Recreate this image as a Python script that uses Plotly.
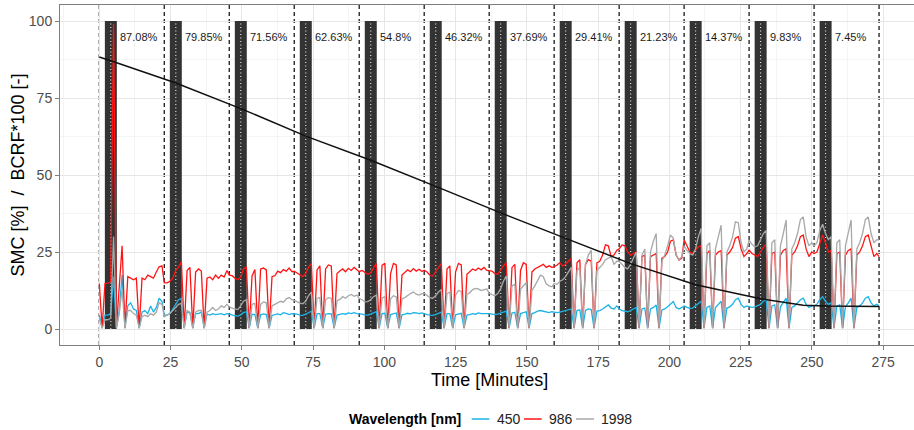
import plotly.graph_objects as go

# ---------------------------------------------------------------- data ----
# start of each measurement interval (minutes) and end of the run
interval_start = [0.0, 22.8, 45.6, 68.4, 91.2, 114.0, 136.8, 159.6, 182.4, 205.2, 228.0, 250.8]
end_time = 273.6
# readings inside each interval, one per minute after the interval start
sample_offset = list(range(23))

# soil moisture content at each interval
smc_label = [87.08, 79.85, 71.56, 62.63, 54.8, 46.32, 37.69, 29.41, 21.23, 14.37, 9.83, 7.45]
smc_start = 88.3
smc_bend_time = 247.0
smc_bend_value = 7.7
smc_end = 7.3

wavelengths = ["450", "986", "1998"]

# BCRF*100 per wavelength (12 intervals x 23 readings + final reading)
blue_450 = [
    4.5, 0.3, 4.5, 4.5, 5.0, 17.0, 0.3, 6.0, 17.5, 0.3, 7.5, 8.5, 6.5, 6.0, 0.3, 5.5, 6.0, 5.0, 7.5, 5.5, 7.0, 10.0, 9.0,
    4.5, 4.5, 5.0, 6.5, 8.0, 9.5, 9.9, 0.3, 5.5, 5.3, 0.3, 5.0, 5.0, 5.5, 0.3, 4.8, 4.5, 5.0, 4.7, 4.8, 5.0, 4.6, 5.0,
    4.8, 4.5, 4.3, 4.2, 4.6, 5.3, 5.6, 0.3, 4.8, 4.7, 0.3, 4.6, 4.9, 4.7, 0.3, 4.4, 4.6, 4.9, 4.6, 5.3, 5.1, 4.7, 5.0,
    5.0, 4.8, 4.5, 4.4, 4.8, 5.4, 5.8, 0.3, 5.0, 5.0, 0.3, 4.8, 5.0, 4.9, 0.3, 4.5, 4.8, 5.0, 4.8, 5.2, 5.0, 5.3, 5.0,
    5.0, 4.8, 4.6, 4.5, 4.8, 5.2, 5.6, 0.3, 5.0, 5.1, 0.3, 4.7, 5.0, 5.2, 0.3, 4.6, 4.8, 5.1, 4.9, 5.3, 5.2, 5.0, 5.2,
    4.9, 4.7, 4.5, 4.4, 4.7, 5.1, 5.5, 0.3, 5.0, 5.0, 0.3, 4.6, 4.9, 5.1, 0.3, 4.5, 4.7, 5.0, 4.8, 5.2, 5.0, 5.1, 5.0,
    5.0, 4.8, 4.7, 4.8, 5.2, 5.5, 5.8, 0.3, 5.2, 5.4, 0.3, 5.0, 5.3, 5.6, 0.3, 5.0, 5.3, 5.8, 6.0, 5.8, 5.5, 5.3, 5.6,
    5.5, 5.3, 5.5, 5.8, 6.0, 6.3, 6.5, 0.3, 6.0, 6.2, 0.3, 6.0, 6.5, 6.3, 0.3, 5.8, 6.0, 6.5, 7.2, 7.8, 6.8, 6.5, 7.5,
    6.5, 6.0, 5.8, 5.6, 6.0, 6.5, 7.0, 0.3, 6.5, 6.8, 0.3, 6.5, 7.0, 7.8, 0.3, 6.2, 6.5, 7.2, 8.0, 8.9, 7.0, 6.5, 7.0,
    7.5, 7.0, 6.7, 6.8, 7.5, 8.5, 9.0, 0.3, 7.0, 7.5, 0.3, 7.0, 8.0, 9.0, 0.3, 6.8, 7.2, 8.0, 9.5, 10.0, 8.0, 7.0, 7.5,
    7.2, 7.0, 7.2, 7.5, 8.0, 9.0, 9.5, 0.3, 7.5, 7.8, 0.3, 7.2, 8.5, 10.0, 0.3, 7.0, 7.5, 8.5, 9.5, 10.0, 8.0, 7.0, 7.5,
    7.5, 8.0, 9.5, 10.5, 9.0, 8.0, 8.5, 0.3, 7.5, 7.8, 0.3, 7.2, 8.5, 10.0, 0.3, 7.0, 7.5, 8.5, 10.0, 10.5, 8.5, 7.5, 8.0,
    7.5,
]

red_986 = [
    14.8, 0.5, 14.8, 14.8, 15.5, 99.0, 0.5, 14.0, 27.0, 0.5, 17.0, 16.5, 16.0, 16.5, 0.5, 16.5, 16.0, 17.5, 17.0, 16.5, 18.5, 20.2, 20.5,
    15.0, 15.0, 15.5, 16.5, 19.0, 20.0, 21.8, 0.3, 19.0, 20.0, 0.3, 18.5, 19.5, 18.8, 0.3, 16.5, 16.9, 16.0, 17.5, 16.5, 17.5, 16.9, 19.0,
    17.5, 17.3, 16.5, 16.0, 16.8, 19.5, 20.2, 0.3, 17.2, 19.3, 0.3, 19.5, 19.8, 19.2, 0.3, 17.0, 17.3, 18.8, 18.3, 19.3, 18.8, 19.8, 18.6,
    18.8, 18.2, 17.5, 17.0, 18.0, 20.0, 21.3, 0.3, 19.2, 20.5, 0.3, 19.5, 20.8, 20.5, 0.3, 18.0, 18.8, 19.5, 18.6, 19.7, 19.0, 20.0, 19.2,
    18.6, 19.0, 18.5, 17.8, 18.2, 20.0, 21.3, 0.3, 20.7, 21.3, 0.3, 18.0, 21.3, 20.8, 0.3, 17.5, 18.5, 19.2, 18.6, 19.6, 18.8, 19.4, 18.7,
    19.1, 18.5, 17.5, 17.2, 18.5, 20.0, 21.3, 0.3, 19.5, 20.5, 0.3, 18.5, 21.3, 20.8, 0.3, 17.8, 18.5, 19.5, 19.0, 19.8, 19.2, 20.0, 19.0,
    19.0, 18.8, 18.0, 17.8, 19.0, 20.5, 21.5, 0.3, 20.0, 21.0, 0.3, 19.0, 21.5, 21.0, 0.3, 18.5, 19.5, 20.0, 20.5, 21.0, 20.0, 20.5, 20.0,
    20.2, 20.8, 21.5, 20.5, 21.0, 22.0, 22.9, 0.3, 21.5, 22.5, 0.3, 21.0, 22.5, 22.0, 0.3, 21.5, 22.0, 24.0, 27.3, 27.0, 23.5, 24.0, 25.6,
    26.0, 27.3, 27.0, 25.0, 24.0, 24.5, 25.0, 0.3, 23.5, 24.0, 0.3, 23.5, 24.0, 24.5, 0.3, 23.0, 23.5, 25.0, 28.5, 28.9, 24.0, 22.4, 23.0,
    28.9, 27.0, 25.0, 24.5, 25.5, 26.7, 27.0, 0.3, 24.5, 25.5, 0.3, 24.0, 25.0, 25.5, 0.3, 24.0, 25.0, 26.5, 29.5, 30.0, 26.0, 23.5, 24.5,
    25.6, 24.5, 24.0, 23.5, 25.0, 26.5, 27.5, 0.3, 24.5, 25.0, 0.3, 24.0, 25.5, 26.0, 0.3, 24.0, 25.0, 27.0, 30.0, 30.5, 26.0, 23.5, 25.0,
    24.5, 25.0, 28.0, 30.5, 28.0, 25.0, 25.5, 0.3, 24.5, 25.0, 0.3, 24.0, 25.5, 26.0, 0.3, 24.0, 25.0, 27.0, 30.0, 30.5, 27.0, 23.5, 24.5,
    23.5,
]

grey_1998 = [
    3.5, 0.2, 3.0, 3.0, 3.5, 30.0, 0.2, 5.0, 13.0, 0.2, 6.0, 6.0, 5.0, 4.5, 0.2, 4.0, 4.5, 4.0, 5.0, 4.5, 5.5, 8.5, 8.0,
    4.0, 4.5, 5.0, 6.0, 7.0, 8.0, 8.3, 0.2, 6.0, 5.5, 0.2, 5.5, 6.0, 6.0, 0.2, 5.5, 6.0, 7.0, 6.0, 6.5, 7.5, 7.0, 8.0,
    7.2, 6.8, 6.5, 6.3, 7.5, 9.0, 9.5, 0.2, 8.0, 8.3, 0.2, 8.0, 8.8, 8.5, 0.2, 7.5, 8.0, 8.6, 9.0, 8.7, 9.8, 10.2, 9.5,
    9.3, 8.8, 8.4, 8.2, 9.0, 10.8, 12.0, 0.2, 10.0, 10.2, 0.2, 9.5, 10.2, 10.0, 0.2, 9.2, 9.6, 10.5, 10.0, 10.8, 11.2, 10.6, 11.0,
    9.9, 9.5, 8.8, 8.9, 9.5, 10.5, 11.0, 0.2, 10.0, 10.5, 0.2, 9.8, 10.8, 10.4, 0.2, 9.8, 10.2, 11.0, 11.5, 12.0, 11.3, 11.0, 11.5,
    11.6, 11.0, 10.2, 10.0, 10.8, 12.0, 12.8, 0.2, 11.5, 12.0, 0.2, 11.0, 12.5, 12.2, 0.2, 11.2, 11.8, 12.8, 13.2, 13.0, 12.5, 12.8, 13.0,
    11.6, 11.2, 10.8, 11.5, 13.0, 15.5, 17.2, 0.2, 14.0, 14.5, 0.2, 13.0, 14.0, 15.0, 0.2, 12.5, 14.0, 16.0, 17.5, 17.0, 14.7, 14.0, 13.7,
    14.8, 14.5, 15.5, 16.0, 17.0, 18.5, 20.0, 0.2, 19.0, 20.0, 0.2, 21.0, 24.0, 25.6, 0.2, 19.0, 20.0, 21.0, 22.5, 23.0, 23.5, 21.0, 22.0,
    22.0, 21.0, 20.0, 19.5, 21.0, 23.0, 25.0, 0.2, 24.0, 26.0, 0.2, 25.0, 28.5, 31.0, 0.2, 22.0, 24.0, 27.0, 30.5, 29.5, 24.0, 22.5, 23.5,
    27.0, 25.5, 24.5, 24.0, 26.0, 30.0, 32.7, 0.2, 27.0, 28.0, 0.2, 26.0, 30.0, 33.7, 0.2, 25.0, 27.0, 30.0, 34.8, 34.5, 28.0, 25.0, 26.0,
    28.9, 27.5, 26.7, 27.0, 29.0, 31.0, 32.0, 0.2, 28.0, 29.0, 0.2, 27.0, 31.0, 35.4, 0.2, 26.0, 28.0, 31.0, 35.5, 36.4, 30.0, 27.0, 28.0,
    27.0, 28.0, 32.0, 34.0, 31.0, 29.0, 30.0, 0.2, 28.0, 29.0, 0.2, 27.0, 31.0, 35.4, 0.2, 26.0, 28.0, 31.0, 35.5, 36.4, 31.0, 28.0, 29.0,
    28.9,
]

# ------------------------------------------------------------- styling ----
W, H = 914, 430
M_L, M_R, M_T, M_B = 60, 0, 5, 85
X0_PX, X_SCALE = 99.3, 2.85          # pixel of t = 0, pixels per minute
Y0_PX, Y_SCALE = 329.0, 3.08         # pixel of value 0, pixels per unit
PLOT_W = W - M_L - M_R
PLOT_H = H - M_T - M_B

x_range = [(M_L - X0_PX) / X_SCALE, (W - M_R - X0_PX) / X_SCALE]
y_range = [(Y0_PX - (H - M_B)) / Y_SCALE, (Y0_PX - M_T) / Y_SCALE]


def px_x(px):
    return (px - M_L) / PLOT_W


def px_y(py):
    return (H - M_B - py) / PLOT_H


FONT = "Liberation Sans, Arial, Helvetica, sans-serif"
line_colors = {"450": "#1BB3E6", "986": "#FF1414", "1998": "#A8A8A8"}

BAR_FROM, BAR_TO = 1.95, 6.15        # dark marker relative to interval start
MARK_AT = 4.05                        # centre of the marker
LABEL_DX, LABEL_Y = 6.5, 94.8

time = [s + o for s in interval_start for o in sample_offset] + [end_time]

smc_x = [0.0] + [s + MARK_AT for s in interval_start[:11]] + [smc_bend_time, interval_start[11] + MARK_AT, end_time]
smc_y = [smc_start] + smc_label[:11] + [smc_bend_value, smc_label[11], smc_end]

fig = go.Figure()

for name, values in zip(wavelengths, [blue_450, red_986, grey_1998]):
    fig.add_trace(go.Scatter(
        x=time, y=values, mode="lines", name=name,
        line=dict(color=line_colors[name], width=1.3),
        showlegend=False, hoverinfo="skip",
    ))

fig.add_trace(go.Scatter(
    x=smc_x, y=smc_y, mode="lines", name="SMC",
    line=dict(color="#111111", width=1.5), showlegend=False, hoverinfo="skip",
))

shapes = []
for s in interval_start + [end_time]:
    shapes.append(dict(type="line", xref="x", yref="paper", x0=s, x1=s, y0=0, y1=1,
                       line=dict(color="#1a1a1a", width=1.3, dash="4px,3px"), layer="between"))
for s in interval_start:
    shapes.append(dict(type="rect", xref="x", yref="y", x0=s + BAR_FROM, x1=s + BAR_TO, y0=0, y1=100,
                       fillcolor="#333333", line=dict(width=0), layer="between"))
    shapes.append(dict(type="line", xref="x", yref="y", x0=s + MARK_AT, x1=s + MARK_AT, y0=0, y1=100,
                       line=dict(color="#ffffff", width=1, dash="1px,2.5px"), layer="between"))

annotations = []
for s, v in zip(interval_start, smc_label):
    annotations.append(dict(x=s + LABEL_DX, y=LABEL_Y, xref="x", yref="y", text=f"{v:g}%",
                            showarrow=False, xanchor="left", yanchor="middle",
                            font=dict(family=FONT, size=11, color="#1a1a1a")))

# axis titles
annotations.append(dict(x=px_x(489), y=px_y(380), xref="paper", yref="paper", text="Time [Minutes]",
                        showarrow=False, xanchor="center", yanchor="middle",
                        font=dict(family=FONT, size=18, color="#000000")))
annotations.append(dict(x=px_x(17.5), y=px_y(175), xref="paper", yref="paper",
                        text="SMC [%]\u00a0\u00a0/\u00a0\u00a0BCRF*100 [-]", textangle=-90,
                        showarrow=False, xanchor="center", yanchor="middle",
                        font=dict(family=FONT, size=18, color="#000000")))

# legend
LEG_Y = 419
annotations.append(dict(x=px_x(346.7), y=px_y(LEG_Y), xref="paper", yref="paper",
                        text="<b>Wavelength [nm]</b>", showarrow=False, xanchor="left", yanchor="middle",
                        font=dict(family=FONT, size=14, color="#000000")))
legend_px = [(471.7, 489.3, 495.0), (524.0, 541.7, 546.7), (576.0, 594.0, 599.3)]
for name, (lx0, lx1, tx) in zip(wavelengths, legend_px):
    shapes.append(dict(type="line", xref="paper", yref="paper", x0=px_x(lx0), x1=px_x(lx1),
                       y0=px_y(LEG_Y), y1=px_y(LEG_Y), line=dict(color=line_colors[name], width=1.5)))
    annotations.append(dict(x=px_x(tx), y=px_y(LEG_Y), xref="paper", yref="paper", text=name,
                            showarrow=False, xanchor="left", yanchor="middle",
                            font=dict(family=FONT, size=14, color="#222222")))

axis_common = dict(
    ticks="outside", ticklen=4, tickcolor="#7f7f7f", tickwidth=1,
    tickfont=dict(family=FONT, size=14, color="#4d4d4d"),
    showgrid=True, gridcolor="#E6E6E6", gridwidth=1,
    showline=True, linecolor="#7f7f7f", linewidth=1,
    zeroline=False, tick0=0,
)

fig.update_layout(
    width=W, height=H,
    margin=dict(l=M_L, r=M_R, t=M_T, b=M_B),
    paper_bgcolor="#ffffff", plot_bgcolor="#ffffff",
    showlegend=False,
    xaxis=dict(range=x_range, dtick=25, mirror=True,
               minor=dict(dtick=12.5, tick0=0, showgrid=True, gridcolor="#F4F4F4", ticks=""),
               **axis_common),
    yaxis=dict(range=y_range, dtick=25, mirror=False,
               minor=dict(dtick=12.5, tick0=0, showgrid=True, gridcolor="#F4F4F4", ticks=""),
               **axis_common),
    shapes=shapes,
    annotations=annotations,
)

fig.write_html("out.html")
